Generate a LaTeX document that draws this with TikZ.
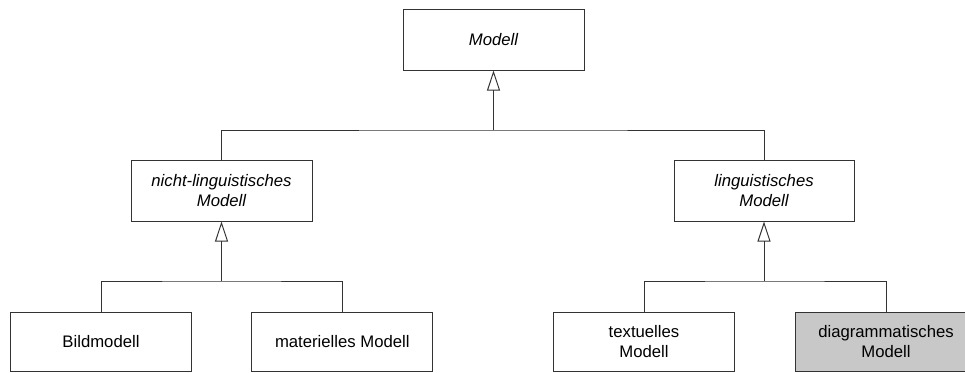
\documentclass[tikz,border=0pt]{standalone}
\usepackage{fontspec}
\setmainfont{Liberation Sans}
\usetikzlibrary{arrows.meta}
\definecolor{edge}{HTML}{333333}
\definecolor{shade}{HTML}{C8C8C8}
\begin{document}
\begin{tikzpicture}[x=1pt,y=1pt,
  cls/.style={draw=edge, line width=1pt, fill=white, minimum width=181pt,
    minimum height=61pt, align=center, inner sep=0pt,
    font=\fontsize{16.7}{20}\selectfont},
  leaf/.style={cls, minimum height=59pt},
  abstract/.style={font=\fontsize{16.7}{20}\selectfont\itshape},
  link/.style={draw=edge, line width=1pt},
  inherit/.style={link, -{Triangle[open, length=20pt, width=13pt, line width=1pt]}}]
  \useasboundingbox (0,0) rectangle (965,-372);

  % class boxes
  \node[cls, abstract] (modell) at (493.5,-39.5) {Modell};
  \node[cls, abstract] (nling) at (221.5,-190.5) {nicht-linguistisches\\Modell};
  \node[cls, abstract, minimum width=180pt] (ling) at (764,-190.5) {linguistisches\\Modell};
  \node[leaf] (bild) at (101,-341.5) {Bildmodell};
  \node[leaf] (mat) at (342.3,-341.5) {materielles Modell};
  \node[leaf] (text) at (644,-341.5) {textuelles\\Modell};
  \node[leaf, fill=shade] (diag) at (886,-341.5) {diagrammatisches\\Modell};

  % junction points of the generalisation trees
  \coordinate (j0) at (modell.south |- 0,-130);
  \coordinate (j1) at (nling.south |- 0,-281);
  \coordinate (j2) at (ling.south |- 0,-281);

  % first level
  \draw[inherit] (j0) -- (modell.south);
  \draw[link] (nling.north) |- (j0) -| (ling.north);

  % second level
  \draw[inherit] (j1) -- (nling.south);
  \draw[link] (bild.north) |- (j1) -| (mat.north);
  \draw[inherit] (j2) -- (ling.south);
  \draw[link] (text.north) |- (j2) -| (diag.north);
\end{tikzpicture}
\end{document}
